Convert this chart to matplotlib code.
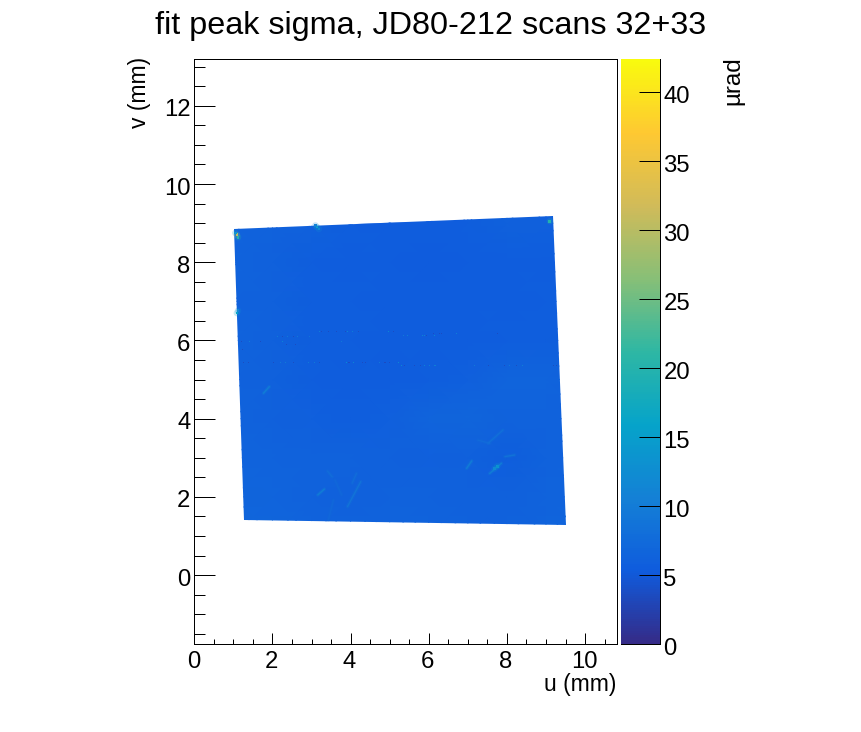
import numpy as np
import matplotlib
matplotlib.use("Agg")
import matplotlib.pyplot as plt
from matplotlib.colors import LinearSegmentedColormap, Normalize
from matplotlib.patches import Polygon
from matplotlib.cm import ScalarMappable
from matplotlib.ticker import MultipleLocator
from matplotlib.transforms import ScaledTranslation

plt.rcParams['font.family'] = ['Liberation Sans', 'DejaVu Sans']

# --- values ---
grid_u = [1, 2, 3, 4, 5, 6, 7, 8, 9, 10]
grid_v = [1, 2, 3, 4, 5, 6, 7, 8, 9, 10]
# sigma (urad) at each grid node; rows run with v upward
grid_sigma = [
    [6.8, 6.8, 6.4, 6.2, 6.5, 6.4, 6.2, 6.3, 6.5, 6.6],
    [6.7, 6.6, 6.2, 6.0, 6.3, 6.3, 6.0, 6.1, 6.4, 6.6],
    [6.5, 6.4, 6.3, 6.2, 6.0, 5.9, 6.1, 5.8, 6.2, 6.4],
    [6.4, 6.0, 5.9, 5.8, 5.9, 6.5, 6.7, 6.2, 6.2, 6.3],
    [6.3, 6.0, 5.7, 5.6, 5.6, 5.8, 5.9, 6.5, 6.5, 6.3],
    [6.4, 6.0, 5.8, 5.7, 5.6, 5.6, 5.6, 5.7, 5.8, 6.0],
    [6.3, 6.0, 5.8, 5.7, 5.6, 5.5, 5.5, 5.6, 5.7, 5.8],
    [6.4, 6.0, 5.7, 5.5, 5.5, 5.4, 5.5, 5.5, 5.6, 5.8],
    [6.6, 6.3, 6.1, 5.8, 5.6, 5.6, 5.8, 6.0, 5.9, 5.9],
    [6.7, 6.4, 6.3, 6.1, 5.9, 5.9, 6.0, 6.1, 6.1, 6.1],
]
outline_u = [1.02, 9.18, 9.51, 1.28]
outline_v = [8.85, 9.19, 1.28, 1.41]

streak_u0 = [1.77, 3.16, 3.92, 3.41, 4.04, 3.60, 3.43, 7.56, 6.97, 7.52, 7.95, 7.26]
streak_v0 = [4.65, 2.05, 1.75, 2.66, 2.35, 2.43, 1.41, 2.60, 2.73, 3.37, 3.03, 3.45]
streak_u1 = [1.92, 3.33, 4.26, 3.53, 4.15, 3.77, 3.56, 7.86, 7.10, 7.90, 8.20, 7.56]
streak_v1 = [4.82, 2.20, 2.39, 2.51, 2.60, 2.05, 1.92, 2.86, 2.92, 3.71, 3.07, 3.37]
streak_sigma = [12, 12, 10, 8.5, 8.5, 7.5, 7.5, 12, 12, 9, 10, 8]

spot_u = [1.09, 1.12, 1.05, 3.14, 3.19, 3.10, 1.09, 1.12, 7.75, 7.68, 9.10]
spot_v = [8.70, 8.64, 8.75, 8.90, 8.85, 8.94, 6.70, 6.76, 2.78, 2.72, 9.05]
spot_sigma = [30, 20, 14, 16, 12, 11, 16, 12, 15, 12, 20]

dot_u = [3.21, 3.26, 3.43, 3.64, 3.88, 3.91, 4.04, 4.20, 4.96, 5.09,
         2.12, 2.25, 2.38, 2.55, 2.63, 2.96,
         1.21, 1.42, 1.70, 2.25, 3.77, 2.36, 2.58, 1.23,
         1.25, 1.38, 2.02, 2.21, 2.34, 2.53, 2.92, 3.07, 3.21, 3.90, 3.96, 4.07,
         4.31, 4.37, 4.73, 4.88, 4.99, 5.22,
         6.11, 6.28, 6.33, 6.71, 7.77, 5.35, 5.45, 5.84, 5.90, 5.94, 6.14,
         5.30, 5.39, 5.63, 5.79, 5.90, 6.01, 6.16, 7.18, 7.52, 7.95, 8.07, 8.24, 8.39, 9.20, 9.27]
dot_v = [6.22] * 10 + [6.11] * 6 + [5.97] * 5 + [5.90] * 2 + [5.77] + [5.43] * 18 \
    + [6.18] * 5 + [6.12] * 6 + [5.35] * 15
dot_sigma = [12, 3, 3, 3, 3, 14, 12, 3, 14, 3,
             11, 3, 11, 3, 11, 10,
             3, 12, 3, 13, 11, 3, 3, 3,
             3, 3, 3, 11, 11, 3, 11, 11, 3, 15, 3, 14,
             3, 3, 11, 3, 3, 14,
             3, 3, 3, 12, 3, 11, 12, 13, 13, 3, 14,
             14, 3, 3, 3, 13, 12, 12, 11, 3, 3, 11, 3, 12, 3, 3]

x_ticks = [0, 2, 4, 6, 8, 10]
y_ticks = [0, 2, 4, 6, 8, 10, 12]
z_ticks = [0, 5, 10, 15, 20, 25, 30, 35, 40]
bird_stops = [(0.2082, 0.1664, 0.5293), (0.0592, 0.3599, 0.8684), (0.0780, 0.5041, 0.8385),
              (0.0232, 0.6419, 0.7914), (0.1802, 0.7178, 0.6425), (0.5301, 0.7492, 0.4662),
              (0.8186, 0.7328, 0.3499), (0.9956, 0.7862, 0.1968), (0.9764, 0.9832, 0.0539)]
x_limits = (0, 10.81)
y_limits = (-1.77, 13.19)
z_limits = (0, 42.4)

# --- figure ---
W, H = 862, 732
fig = plt.figure(figsize=(W / 100, H / 100), dpi=100)


def box(l, t, r, b):
    return [l / W, 1 - b / H, (r - l) / W, (b - t) / H]


ax = fig.add_axes(box(194.3, 59.3, 616.7, 644.3))
cax = fig.add_axes(box(621, 59.3, 660.3, 644.3))

cmap = LinearSegmentedColormap.from_list('bird', bird_stops, N=255)
norm = Normalize(*z_limits)

mesh = ax.pcolormesh(grid_u, grid_v, np.array(grid_sigma), cmap=cmap, norm=norm,
                     shading='gouraud', rasterized=True)
outline = Polygon(list(zip(outline_u, outline_v)), closed=True, transform=ax.transData,
                  fc='none', ec='none')
ax.add_patch(outline)
mesh.set_clip_path(outline)

for u0, v0, u1, v1, s in zip(streak_u0, streak_v0, streak_u1, streak_v1, streak_sigma):
    ax.plot([u0, u1], [v0, v1], color=cmap(norm(s)), lw=2.6, alpha=0.22, solid_capstyle='round')
    ax.plot([u0, u1], [v0, v1], color=cmap(norm(s)), lw=1.0, alpha=0.6, solid_capstyle='round')
ax.scatter(spot_u, spot_v, c=spot_sigma, cmap=cmap, norm=norm, s=22, marker='o', linewidths=0, alpha=0.22)
ax.scatter(spot_u, spot_v, c=spot_sigma, cmap=cmap, norm=norm, s=4, marker='s', linewidths=0)
ax.scatter(dot_u, dot_v, c=dot_sigma, cmap=cmap, norm=norm, s=0.6, marker='s', linewidths=0, alpha=0.75)

ax.set_xlim(*x_limits)
ax.set_ylim(*y_limits)
ax.set_xticks(x_ticks)
ax.set_yticks(y_ticks)
ax.xaxis.set_minor_locator(MultipleLocator(0.5))
ax.yaxis.set_minor_locator(MultipleLocator(0.5))
PT = 0.72
ax.tick_params(axis='x', which='major', direction='in', length=11 * PT, width=0.72, labelsize=17.2, pad=5)
ax.tick_params(axis='x', which='minor', direction='in', length=5 * PT, width=0.72)
ax.tick_params(axis='y', which='major', direction='in', length=21 * PT, width=0.72, labelsize=17.2, pad=2.8)
ax.tick_params(axis='y', which='minor', direction='in', length=10.5 * PT, width=0.72)
for s in ax.spines.values():
    s.set_linewidth(0.72)

cb = fig.colorbar(ScalarMappable(norm=norm, cmap=cmap), cax=cax)
cb.set_ticks(z_ticks)
cb.minorticks_off()
cb.outline.set_visible(False)
cax.spines['right'].set_visible(True)
cax.spines['right'].set_linewidth(0.72)
cax.spines['bottom'].set_visible(True)
cax.spines['bottom'].set_linewidth(0.72)
cax.yaxis.set_ticks_position('right')
cax.tick_params(axis='y', direction='in', length=21 * PT, width=0.72, labelsize=17.2, pad=2.3)

# tick labels sit a little below / left of their ticks in the reference
down = ScaledTranslation(0, -2 / 100, fig.dpi_scale_trans)
left = ScaledTranslation(-1 / 100, 0, fig.dpi_scale_trans)
for lab in ax.get_yticklabels() + cax.get_yticklabels():
    lab.set_transform(lab.get_transform() + down)
for lab in ax.get_xticklabels():
    lab.set_transform(lab.get_transform() + left)

fig.text(431 / W, 1 - 26 / H, 'fit peak sigma, JD80-212 scans 32+33', ha='center', va='center', fontsize=23.3)
fig.text(616.5 / W, 1 - 684 / H, 'u (mm)', ha='right', va='center', fontsize=16.5)
fig.text(140 / W, 1 - 57 / H, 'v (mm)', ha='center', va='top', rotation=90, fontsize=16.5)
fig.text(733 / W, 1 - 56 / H, 'µrad', ha='center', va='top', rotation=90, fontsize=17.5)

fig.savefig('out.png', dpi=100)
